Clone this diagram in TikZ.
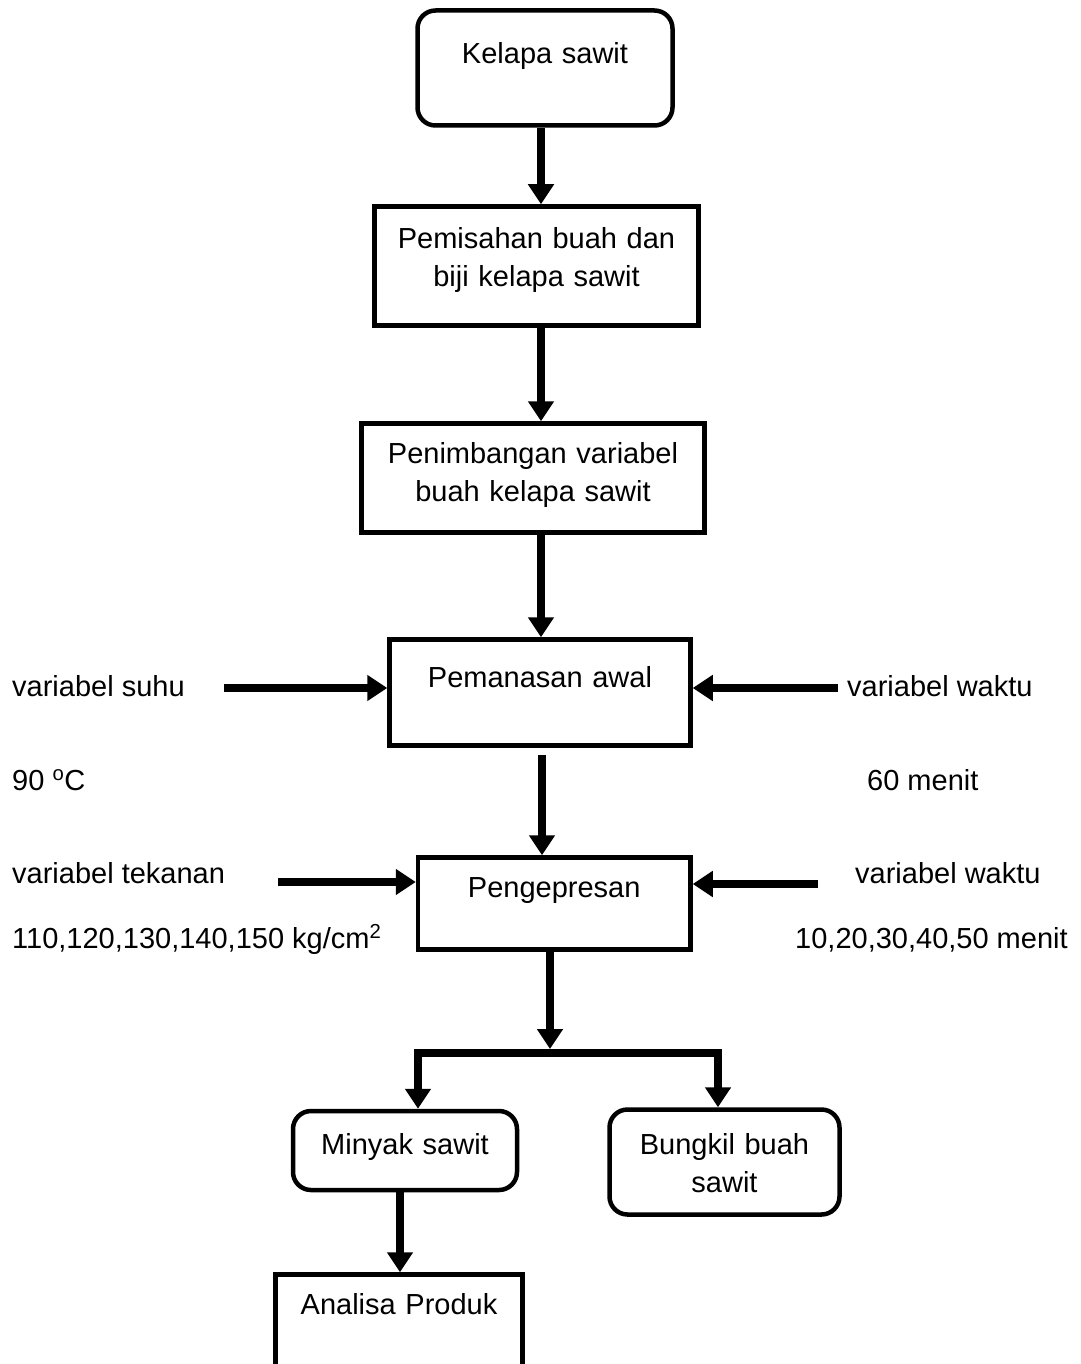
\documentclass[tikz,border=0pt]{standalone}
\usepackage{fontspec}
\setmainfont{Liberation Sans}
\usetikzlibrary{arrows.meta}

\begin{document}
\begin{tikzpicture}[x=1pt, y=-1pt,
        box_style/.style={draw=black, line width=4.5pt, inner sep=0pt, align=center, font=\fontsize{29}{38}\selectfont},
        round_style/.style={box_style, rounded corners=18pt},
        text_style/.style={anchor=base west, inner sep=0pt, font=\fontsize{29}{38}\selectfont},
        edge_style/.style={draw=black, line width=8pt, -{Triangle[length=20pt,width=25pt]}}]
        \useasboundingbox (0,0) rectangle (1080,1364);
        \clip (0,0) rectangle (1080,1364);

        % process boxes
        \node [round_style, text width=255pt, text height=53.5pt, text depth=61.5pt, anchor=base] (kelapa) at (545,64) {Kelapa sawit};
        \node [box_style, text width=324pt, text height=41.5pt, text depth=77.5pt, anchor=base] (pemisahan) at (536.5,248) {Pemisahan buah dan\\biji kelapa sawit};
        \node [box_style, text width=343pt, text height=39.5pt, text depth=69.5pt, anchor=base] (penimbangan) at (533,463) {Penimbangan variabel\\buah kelapa sawit};
        \node [box_style, text width=301pt, text height=47.5pt, text depth=58.5pt, anchor=base] (pemanasan) at (540,687) {Pemanasan awal};
        \node [box_style, text width=272.5pt, text height=39.5pt, text depth=52.5pt, anchor=base] (pengepresan) at (554.25,897) {Pengepresan};
        \node [round_style, text width=224pt, text height=43pt, text depth=36pt, anchor=base] (minyak) at (405,1154) {Minyak sawit};
        \node [round_style, text width=230pt, text height=44.5pt, text depth=60.5pt, anchor=base] (bungkil) at (724.5,1154) {Bungkil buah\\sawit};
        \node [box_style, text width=247pt, text height=39.5pt, text depth=86pt, anchor=base] (analisa) at (399,1314) {Analisa Produk};

        % side texts
        \node [text_style] (suhu) at (12,696) {variabel suhu};
        \node [text_style] (suhuval) at (12,790) {90 \textsuperscript{o}C};
        \node [text_style] (tekanan) at (12,883) {variabel tekanan};
        \node [text_style] (tekananval) at (12,948) {110,120,130,140,150 kg/cm\textsuperscript{2}};
        \node [text_style] (waktu) at (847,696) {variabel waktu};
        \node [text_style] (waktuval) at (867,790) {60 menit};
        \node [text_style] (waktupres) at (855,883) {variabel waktu};
        \node [text_style] (waktupresval) at (795,948) {10,20,30,40,50 menit};

        % connectors
        \coordinate (spine) at (541,0);
        \coordinate (split) at (550,1053);
        \coordinate (lbend) at (418,1053);
        \coordinate (rbend) at (718,1053);
        \coordinate (oil) at (400,1200);
        \draw [edge_style] (kelapa.south -| spine) -- (pemisahan.north -| spine);
        \draw [edge_style] (pemisahan.south -| spine) -- (penimbangan.north -| spine);
        \draw [edge_style] (penimbangan.south -| spine) -- (pemanasan.north -| spine);
        \draw [edge_style, shorten <=7pt] ([xshift=1pt]pemanasan.south -| spine) -- ([xshift=1pt]pengepresan.north -| spine);
        \draw [edge_style, shorten >=4pt] (pengepresan.south -| split) -- (split);
        \draw [edge_style] (split) -- (lbend) -- (minyak.north -| lbend);
        \draw [edge_style] (split) -- (rbend) -- (bungkil.north -| rbend);
        \draw [edge_style] (minyak.south -| oil) -- (analisa.north -| oil);

        % input arrows
        \coordinate (suhuend) at (224,688);
        \coordinate (waktuend) at (838,688);
        \coordinate (tekananend) at (278,882);
        \coordinate (waktupresend) at (818,884);
        \draw [edge_style] (suhuend) -- (suhuend -| pemanasan.west);
        \draw [edge_style] (waktuend) -- (waktuend -| pemanasan.east);
        \draw [edge_style] (tekananend) -- (tekananend -| pengepresan.west);
        \draw [edge_style] (waktupresend) -- (waktupresend -| pengepresan.east);
\end{tikzpicture}
\end{document}
